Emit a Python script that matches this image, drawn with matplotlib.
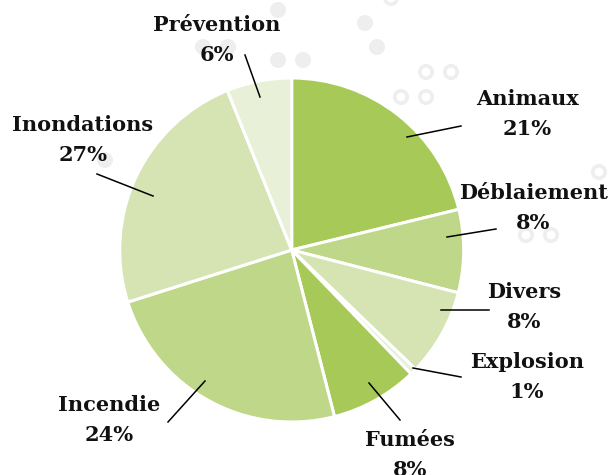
import matplotlib
matplotlib.use('Agg')
from matplotlib import pyplot as plt
from matplotlib.patches import Circle

# data (clockwise from top)
categories = ['Animaux', 'Déblaiement', 'Divers', 'Explosion', 'Fumées', 'Incendie', 'Inondations', 'Prévention']
shares = [21.2, 7.8, 8.2, 0.6, 8.2, 24.1, 23.8, 6.1]
pct_labels = ['21%', '8%', '8%', '1%', '8%', '24%', '27%', '6%']

colors = ['#a6c957', '#bfd788', '#d6e4b4', '#e8f0d8', '#a6c957', '#bfd788', '#d6e4b4', '#e8f0d8']

# layout in pixels (y down): leader line start, leader line end, label centre
line_start = [(407, 137), (447, 237), (441, 310), (413, 368), (369, 383), (205, 381), (153, 196), (260, 97)]
line_end = [(461, 126), (496, 229), (489, 310), (461, 377), (400, 420), (168, 422), (97, 174), (245, 55)]
label_pos = [(527, 99), (533, 193), (524, 292), (527, 362), (410, 440), (109, 405), (83, 125), (217, 25)]

# background decoration dots / rings
dots = [(278, 10), (365, 23), (377, 47), (278, 60), (303, 60), (203, 47), (228, 47), (105, 160)]
rings = [(391, -2), (426, 72), (451, 72), (401, 97), (426, 97), (599, 172), (526, 235), (551, 235)]

fig = plt.figure(figsize=(6.11, 4.75), dpi=100)
ax = fig.add_axes([0, 0, 1, 1])
ax.set_xlim(0, 611)
ax.set_ylim(475, 0)
ax.axis('off')

for x, y in dots:
    ax.add_patch(Circle((x, y), 8, facecolor='#eeeeee', edgecolor='none', zorder=0))
for x, y in rings:
    ax.add_patch(Circle((x, y), 6.2, facecolor='none', edgecolor='#eeeeee', linewidth=2.6, zorder=0))

# y axis is flipped, so counterclock in data = clockwise on screen
wedges, _ = ax.pie(shares, colors=colors, startangle=-90, counterclock=True,
                   center=(291.7, 250), radius=172, frame=True,
                   wedgeprops=dict(edgecolor='white', linewidth=2.2))
for w in wedges:
    w.set_zorder(1)
ax.set_xlim(0, 611)
ax.set_ylim(475, 0)
ax.set_aspect('equal')
ax.axis('off')

font = dict(family='DejaVu Serif', weight='bold', fontsize=15, color='#111111',
            ha='center', va='center')
for i, name in enumerate(categories):
    (x0, y0), (x1, y1) = line_start[i], line_end[i]
    ax.plot([x0, x1], [y0, y1], color='black', linewidth=1.1, zorder=3)
    lx, ly = label_pos[i]
    ax.text(lx, ly, name, zorder=4, **font)
    ax.text(lx, ly + 30, pct_labels[i], zorder=4, **font)

fig.savefig('out.png', dpi=100)
